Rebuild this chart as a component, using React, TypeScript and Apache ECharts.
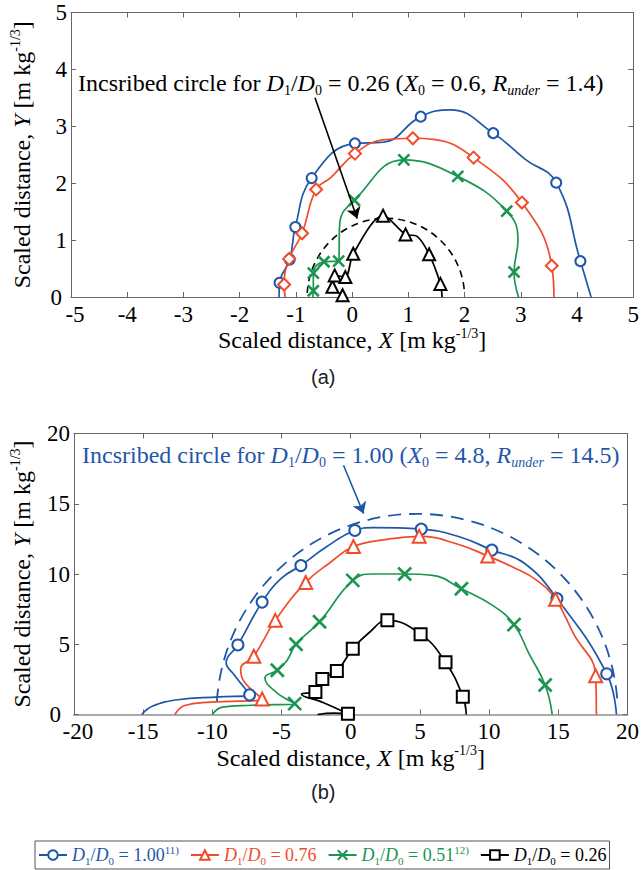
import React, { useEffect, useRef } from 'react';
import * as echarts from 'echarts';

const BLUE = '#1f57a8';
const RED = '#f04b2c';
const GREEN = '#1b9650';
const BLACK = '#000000';
const SERIF = "'Liberation Serif', 'Times New Roman', serif";
const SANS = "'Liberation Sans Narrow', 'Liberation Sans', Arial, sans-serif";

// ---- panel (a): [x, y, marker(1) / curve-only(0)] ----
const aBlue = [
  [-1.30, 0.00, 0], [-1.29, 0.25, 1], [-1.11, 0.66, 1], [-1.01, 1.23, 1], [-0.72, 2.09, 1],
  [0.05, 2.70, 1], [0.55, 2.72, 0], [1.22, 3.17, 1], [1.75, 3.29, 0], [2.51, 2.88, 1],
  [3.08, 2.42, 0], [3.63, 2.01, 1], [4.06, 0.63, 1], [4.25, 0.00, 0],
];
const aRed = [
  [-1.19, 0.00, 0], [-1.21, 0.22, 1], [-1.12, 0.67, 1], [-0.89, 1.12, 1], [-0.64, 1.89, 1],
  [-0.38, 2.10, 0], [0.05, 2.52, 1], [0.55, 2.76, 0], [1.08, 2.79, 1], [1.45, 2.77, 0],
  [2.16, 2.45, 1], [3.02, 1.66, 1], [3.55, 0.55, 1], [3.59, 0.00, 0],
];
const aGreen = [
  [-0.70, 0.00, 0], [-0.69, 0.11, 1], [-0.69, 0.42, 1], [-0.50, 0.62, 1], [-0.24, 0.63, 1],
  [-0.22, 1.30, 0], [0.04, 1.70, 1], [0.92, 2.41, 1], [1.88, 2.12, 1], [2.75, 1.51, 1],
  [2.95, 1.00, 0], [2.88, 0.44, 1], [2.96, 0.00, 0],
];
const aBlack = [
  [-0.17, 0.03, 1], [-0.35, 0.18, 1], [-0.31, 0.38, 1], [-0.12, 0.35, 1], [0.02, 0.76, 1],
  [0.55, 1.43, 1], [0.95, 1.10, 1], [1.15, 1.07, 0], [1.37, 0.75, 1], [1.57, 0.23, 1],
  [1.60, 0.00, 0],
];

// ---- panel (b) ----
const bBlue = [
  [-15.1, 0.0, 0], [-14.3, 0.6, 0], [-12.5, 1.05, 0], [-9.5, 1.25, 0], [-7.3, 1.4, 1],
  [-8.4, 2.8, 0], [-9.0, 3.7, 0], [-8.15, 4.95, 1], [-6.4, 8.0, 1], [-5.0, 9.7, 0],
  [-3.6, 10.6, 1], [-1.8, 11.9, 0], [0.3, 13.1, 1], [1.6, 13.3, 0], [5.1, 13.2, 1],
  [8.0, 12.6, 0], [10.2, 11.7, 1], [12.5, 10.8, 0], [14.9, 8.25, 1], [18.5, 2.9, 1],
  [19.2, 0.0, 0],
];
const bRed = [
  [-12.7, 0.0, 0], [-12.0, 0.64, 0], [-10.1, 0.88, 0], [-6.4, 1.1, 1], [-7.8, 2.5, 0],
  [-7.95, 3.25, 0], [-7.0, 4.15, 1], [-5.45, 6.7, 1], [-3.25, 9.4, 1], [-1.5, 10.8, 0],
  [0.2, 11.95, 1], [2.5, 12.45, 0], [4.95, 12.68, 1], [7.8, 12.1, 0], [9.9, 11.28, 1],
  [11.7, 10.5, 0], [13.45, 9.55, 0], [14.8, 8.2, 1], [16.1, 5.75, 0], [17.7, 2.75, 1],
  [17.75, 0.0, 0],
];
const bGreen = [
  [-10.0, 0.0, 0], [-9.26, 0.52, 0], [-7.2, 0.66, 0], [-4.05, 0.77, 1], [-5.4, 1.6, 0],
  [-6.2, 2.6, 0], [-5.3, 3.15, 1], [-4.6, 3.85, 0], [-3.95, 5.0, 1], [-2.25, 6.6, 1],
  [0.15, 9.55, 1], [1.6, 10.0, 0], [3.9, 10.0, 1], [5.9, 9.9, 0], [8.0, 8.95, 1],
  [10.25, 7.77, 0], [11.8, 6.4, 1], [12.9, 4.3, 0], [14.05, 2.1, 1], [14.56, 0.0, 0],
];
const bBlack = [
  [-2.4, 0.0, 0], [-1.2, 0.1, 0], [-0.2, 0.05, 1], [-2.0, 0.85, 0], [-3.55, 1.45, 0],
  [-2.55, 1.6, 1], [-2.05, 2.52, 1], [-1.0, 3.1, 1], [0.15, 4.68, 1], [1.3, 5.8, 0],
  [2.65, 6.7, 1], [5.05, 5.72, 1], [6.85, 3.72, 1], [8.1, 1.27, 1], [8.35, 0.0, 0],
];

// inscribed circles [X0, R_under]
const circleA = [0.6, 1.4];
const circleB = [4.8, 14.5];
// annotation arrows [start, tip]
const arrowA = [[-0.66, 3.5], [0.09, 1.38]];
const arrowB = [[-0.52, 17.74], [0.93, 14.3]];

// axis ranges
const axisA = { xMin: -5, xMax: 5, xStep: 1, yMin: 0, yMax: 5, yStep: 1 };
const axisB = { xMin: -20, xMax: 20, xStep: 5, yMin: 0, yMax: 20, yStep: 5 };

const legendNames = ['b100', 'b076', 'b051', 'b026'];
const legendLabels: Record<string, string> = {
  b100: '{i|D}{sub|1}/{i|D}{sub|0} = 1.00{sup|11)}',
  b076: '{i|D}{sub|1}/{i|D}{sub|0} = 0.76',
  b051: '{i|D}{sub|1}/{i|D}{sub|0} = 0.51{sup|12)}',
  b026: '{i|D}{sub|1}/{i|D}{sub|0} = 0.26',
};
const legendColors = [BLUE, RED, GREEN, BLACK];

const X_SYMBOL = 'path://M0,0L10,10M10,0L0,10';

function richFor(color: string, size: number, lh: number, sub: number) {
  return {
    i: { fontStyle: 'italic', fontFamily: SERIF, fontSize: size, lineHeight: lh, color },
    sub: { fontFamily: SERIF, fontSize: sub, lineHeight: sub, verticalAlign: 'bottom', color },
    subi: { fontFamily: SERIF, fontStyle: 'italic', fontSize: sub, lineHeight: sub, verticalAlign: 'bottom', color },
    sup: { fontFamily: SERIF, fontSize: sub, lineHeight: sub, verticalAlign: 'top', color },
  };
}

function curve(name: string, arr: number[][], color: string, symbol: string, size: number,
  axis: number, extra: any = {}) {
  return {
    type: 'line', name, xAxisIndex: axis, yAxisIndex: axis,
    data: arr.map(([x, y, m]) => (m ? { value: [x, y] } : { value: [x, y], symbol: 'none' })),
    smooth: 0.45, symbol, symbolSize: size, showSymbol: true,
    lineStyle: { color, width: 1.7 },
    itemStyle: { color, borderColor: color, borderWidth: symbol === X_SYMBOL ? 2.6 : 1.6 },
    emphasis: { disabled: true },
    silent: true, z: 4, clip: false,
    ...extra,
  };
}

function arcSeries(circle: number[], axis: number, color: string, dash: number[], delta: number, width: number) {
  return {
    type: 'custom', name: 'circle' + axis, xAxisIndex: axis, yAxisIndex: axis,
    data: [circle], silent: true, z: 3,
    renderItem: (_p: any, api: any) => {
      const c = api.coord([api.value(0), 0]);
      const r = api.size([api.value(1), 0])[0];
      return {
        type: 'arc',
        shape: { cx: c[0], cy: c[1], r, startAngle: Math.PI + delta, endAngle: 2 * Math.PI - delta, clockwise: true },
        style: { stroke: color, fill: 'none', lineWidth: width, lineDash: dash },
      };
    },
  };
}

function arrowLine(arrow: number[][], color: string) {
  return {
    silent: true, symbol: ['none', 'arrow'], symbolSize: 11,
    lineStyle: { color, width: 1.6, type: 'solid' },
    label: { show: false }, emphasis: { disabled: true },
    data: [[{ coord: arrow[0] }, { coord: arrow[1] }]],
  };
}

const nameRich = richFor(BLACK, 24, 28, 14);
const axisNameStyle = { fontFamily: SERIF, fontSize: 24, color: BLACK, lineHeight: 28, rich: nameRich };
const AXIS_NAME = (v: string) => `Scaled distance, {i|${v}} [m kg{sup|-1/3}]`;
const tickFont = { fontFamily: SERIF, fontSize: 23, lineHeight: 16, color: BLACK };

function xAx(grid: number, r: any, bottom: boolean, lineColor = '#666', lineWidth = 1) {
  return {
    type: 'value', gridIndex: grid, min: r.xMin, max: r.xMax, interval: r.xStep,
    position: bottom ? 'bottom' : 'top',
    axisLine: { show: true, onZero: false, lineStyle: { color: lineColor, width: lineWidth } },
    axisTick: { show: true, inside: true, length: 5, lineStyle: { color: '#666' } },
    splitLine: { show: false },
    axisLabel: bottom
      ? {
          show: true, ...tickFont, margin: 9,
          formatter: (v: number) => (v === r.xMin ? `{m|${v}}` : `${v}`),
          rich: { m: { ...tickFont, padding: [0, 0, 0, 8] } },
        }
      : { show: false },
    name: bottom ? AXIS_NAME('X') : '', nameLocation: 'middle', nameGap: 28,
    nameTextStyle: axisNameStyle,
  };
}
function yAx(grid: number, r: any, left: boolean, zeroPad: number) {
  return {
    type: 'value', gridIndex: grid, min: r.yMin, max: r.yMax, interval: r.yStep,
    position: left ? 'left' : 'right',
    axisLine: { show: true, onZero: false, lineStyle: { color: '#666', width: 1 } },
    axisTick: { show: true, inside: true, length: 5, lineStyle: { color: '#666' } },
    splitLine: { show: false },
    axisLabel: left
      ? {
          show: true, ...tickFont, margin: 4,
          formatter: (v: number) => (v === r.yMin ? `{z|${v}}` : `${v}`),
          rich: { z: { ...tickFont, padding: [0, zeroPad, 0, 0] } },
        }
      : { show: false },
    name: left ? AXIS_NAME('Y') : '', nameLocation: 'middle', nameGap: 35,
    nameTextStyle: axisNameStyle,
  };
}

export default function App() {
  const ref = useRef<HTMLDivElement>(null);
  useEffect(() => {
    if (!ref.current) return;
    const chart = echarts.init(ref.current, null, { renderer: 'svg' });
    const annRich = richFor(BLACK, 24, 28, 14);
    const annRichB = richFor(BLUE, 24, 28, 14);
    const option: any = {
      animation: false,
      backgroundColor: '#ffffff',
      grid: [
        { left: 67, top: 12.5, width: 569, height: 284.5 },
        { left: 66, top: 433.5, width: 564, height: 281 },
      ],
      xAxis: [xAx(0, axisA, true), xAx(0, axisA, false), xAx(1, axisB, true, '#aaa', 2), xAx(1, axisB, false)],
      yAxis: [yAx(0, axisA, true, 5), yAx(0, axisA, false, 0), yAx(1, axisB, true, 9), yAx(1, axisB, false, 0)],
      legend: {
        left: 35, top: 841, orient: 'horizontal', selectedMode: false,
        padding: [3, 3], itemGap: 11, itemWidth: 28, itemHeight: 12,
        borderColor: '#555', borderWidth: 1,
        data: legendNames.map((n, i) => ({
          name: n,
          textStyle: { color: legendColors[i], rich: richFor(legendColors[i], 18, 22, 11) },
        })),
        formatter: (n: string) => legendLabels[n],
        textStyle: { fontFamily: SERIF, fontSize: 18, lineHeight: 22, rich: richFor(BLACK, 18, 22, 11) },
      },
      series: [
        arcSeries(circleA, 0, BLACK, [7, 5], 0.05, 1.6),
        curve('a100', aBlue, BLUE, 'emptyCircle', 10, 0),
        curve('a076', aRed, RED, 'emptyDiamond', 12, 0),
        curve('a051', aGreen, GREEN, X_SYMBOL, 11, 0),
        curve('a026', aBlack, BLACK, 'emptyTriangle', 12, 0, { smooth: 0.3, markLine: arrowLine(arrowA, BLACK) }),
        arcSeries(circleB, 2, BLUE, [13, 8], 0.065, 1.8),
        curve('b100', bBlue, BLUE, 'emptyCircle', 11, 2, { markLine: arrowLine(arrowB, BLUE) }),
        curve('b076', bRed, RED, 'emptyTriangle', 13, 2),
        curve('b051', bGreen, GREEN, X_SYMBOL, 13, 2),
        curve('b026', bBlack, BLACK, 'emptyRect', 12, 2),
      ],
      graphic: [
        {
          type: 'text', left: 78, top: 69, silent: true,
          style: {
            text: `Incsribed circle for {i|D}{sub|1}/{i|D}{sub|0} = 0.26 ({i|X}{sub|0} = ${circleA[0]}, {i|R}{subi|under} = ${circleA[1]})`,
            fontFamily: SERIF, fontSize: 24, lineHeight: 28, fill: BLACK, rich: annRich,
          },
        },
        {
          type: 'text', left: 82, top: 441, silent: true,
          style: {
            text: `Incsribed circle for {i|D}{sub|1}/{i|D}{sub|0} = 1.00 ({i|X}{sub|0} = ${circleB[0]}, {i|R}{subi|under} = ${circleB[1]})`,
            fontFamily: SERIF, fontSize: 24, lineHeight: 28, fill: BLUE, rich: annRichB,
          },
        },
        {
          type: 'text', left: 311, top: 367, silent: true,
          style: { text: '(a)', fontFamily: SANS, fontSize: 20, fill: '#222' },
        },
        {
          type: 'text', left: 311, top: 782, silent: true,
          style: { text: '(b)', fontFamily: SANS, fontSize: 20, fill: '#222' },
        },
      ],
    };
    chart.setOption(option);
    return () => chart.dispose();
  }, []);
  return (
    <div
      ref={ref}
      style={{ position: 'fixed', left: 0, top: 0, width: 642, height: 870, background: '#fff' }}
    />
  );
}
